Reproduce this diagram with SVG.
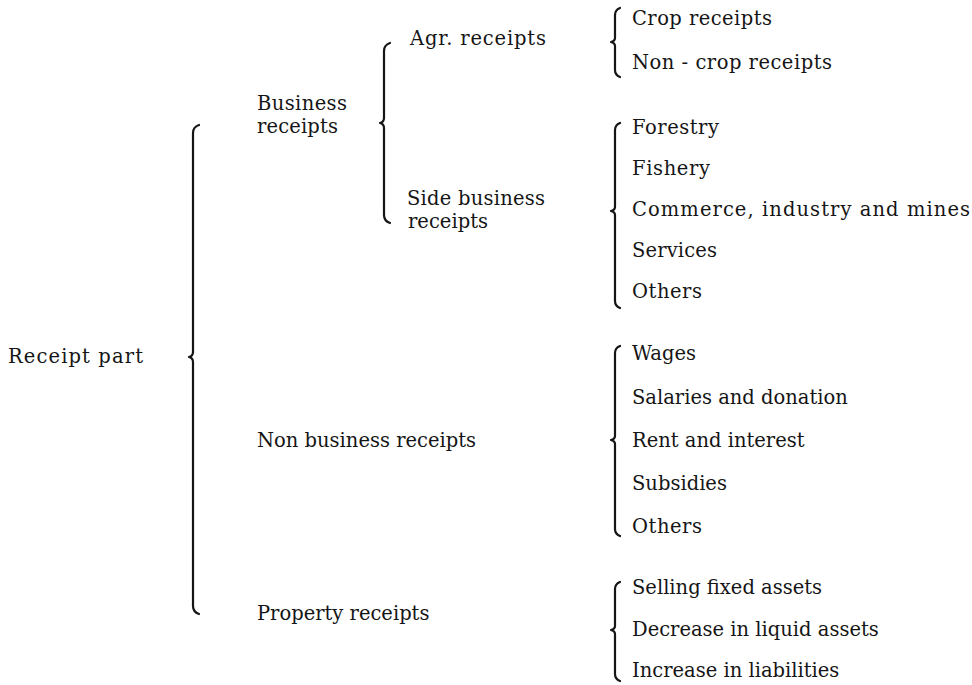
<svg xmlns="http://www.w3.org/2000/svg" width="972" height="685" viewBox="0 0 972 685">
<style>
text{font-family:"DejaVu Serif","Liberation Serif",serif;font-size:19.5px;fill:#151515}
.br{fill:none;stroke:#151515;stroke-width:2.2;stroke-linecap:round;stroke-linejoin:round}
</style>
<rect width="972" height="685" fill="#fff"/>
<g id="connectors">
<path class="br" d="M199,125 Q193,127 193,133 L193,352 Q193,356 189,357 Q193,358 193,362 L193,606 Q193,612 199,614"/>
<path class="br" d="M390,43 Q384,45 384,51 L384,118 Q384,122 380,123 Q384,124 384,128 L384,215 Q384,221 390,223"/>
<path class="br" d="M620,8 Q615,10 615,15 L615,38 Q615,41 611,42 Q615,43 615,46 L615,70 Q615,75 620,77"/>
<path class="br" d="M620,123 Q615,125 615,130 L615,207 Q615,210 611,211 Q615,212 615,215 L615,301 Q615,306 620,308"/>
<path class="br" d="M620,346 Q615,348 615,353 L615,436 Q615,439 611,440 Q615,441 615,444 L615,529 Q615,534 620,536"/>
<path class="br" d="M620,582 Q615,584 615,589 L615,626 Q615,629 611,630 Q615,631 615,634 L615,674 Q615,679 620,681"/>
</g>
<g id="receipt-part"><text x="8" y="363" textLength="135">Receipt  part</text></g>
<g id="business-receipts"><text x="257" y="110" textLength="90">Business</text><text x="257" y="133" textLength="81">receipts</text></g>
<g id="agr-receipts"><text x="410" y="45" textLength="136">Agr.  receipts</text></g>
<g id="side-business-receipts"><text x="407" y="205" textLength="138">Side  business</text><text x="408" y="228" textLength="80">receipts</text></g>
<g id="crop-receipts"><text x="632" y="25" textLength="140">Crop  receipts</text></g>
<g id="non-crop-receipts"><text x="632" y="69" textLength="200">Non - crop  receipts</text></g>
<g id="forestry"><text x="632" y="134" textLength="87">Forestry</text></g>
<g id="fishery"><text x="632" y="175" textLength="78">Fishery</text></g>
<g id="commerce"><text x="632" y="216" textLength="338">Commerce,  industry  and  mines</text></g>
<g id="services"><text x="632" y="257" textLength="85">Services</text></g>
<g id="others-1"><text x="632" y="298" textLength="70">Others</text></g>
<g id="non-business-receipts"><text x="257" y="447">Non  business  receipts</text></g>
<g id="wages"><text x="632" y="360">Wages</text></g>
<g id="salaries"><text x="632" y="404">Salaries  and  donation</text></g>
<g id="rent"><text x="632" y="447">Rent  and  interest</text></g>
<g id="subsidies"><text x="632" y="490">Subsidies</text></g>
<g id="others-2"><text x="632" y="533" textLength="70">Others</text></g>
<g id="property-receipts"><text x="257" y="620">Property  receipts</text></g>
<g id="selling"><text x="632" y="594">Selling  fixed  assets</text></g>
<g id="decrease"><text x="632" y="636">Decrease  in  liquid  assets</text></g>
<g id="increase"><text x="632" y="677">Increase  in  liabilities</text></g>
</svg>
